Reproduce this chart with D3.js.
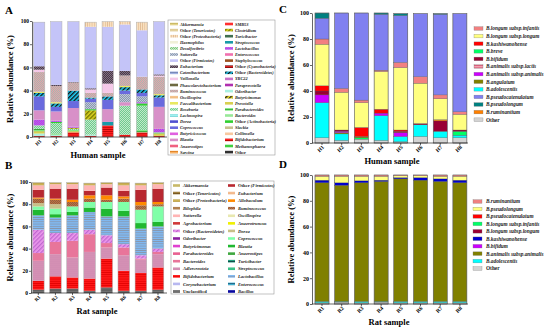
<!DOCTYPE html>
<html>
<head>
<meta charset="utf-8">
<script src="https://cdn.jsdelivr.net/npm/d3@7"></script>
<style>
  body { margin: 0; background: #fff; }
  svg { display: block; font-family: "Liberation Serif", "Times New Roman", serif; }
</style>
</head>
<body>
<script>
// ---- data ----
const humanSamples = ["H1", "H2", "H3", "H4", "H5", "H6", "H7", "H8"];
const ratSamples = ["R1", "R2", "R3", "R4", "R5", "R6", "R7", "R8"];
const yTicks = [0, 20, 40, 60, 80, 100];

// A: genus level, human (stack order bottom -> top, one row per key, columns H1..H8)
const keysA = ["Bifidobacterium", "Odoribacter", "Prevotella", "Parabacteroides", "Roseburia",
  "Streptococcus", "Clostridium", "Other (Actinobacteria)", "Lactobacillus", "Blautia", "Sutterella",
  "Coprococcus", "Other (Bacteroidetes)", "Faecalibacterium", "Ruminococcus", "Veillonella",
  "Eubacterium", "Other (Firmicutes)", "Other (Proteobacteria)"];
const abundA = [
  [1, 1, 4, 1, 10, 2, 4, 1],
  [2, 1, 0, 1, 0, 0, 0, 0],
  [2, 0, 1, 0, 0, 0, 0, 2],
  [2, 1, 1, 0, 0, 0, 2, 1],
  [3, 9, 1, 13, 0, 25, 21, 0],
  [0, 0, 0, 0, 3, 0, 0, 0],
  [0, 0, 1, 8, 0, 0, 0, 0],
  [0, 1, 0, 1, 0, 0, 2, 0],
  [5, 1, 1, 0, 0, 0, 1, 3],
  [8, 8, 16, 0, 11, 3, 0, 19],
  [0, 0, 0, 6, 0, 7, 5, 0],
  [12, 4, 6, 3, 8, 3, 3, 8],
  [3, 3, 9, 1, 3, 3, 3, 2],
  [1, 1, 0, 0, 0, 1, 0, 1],
  [17, 14, 7, 4, 3, 9, 11, 15],
  [2, 0, 0, 3, 8, 0, 0, 1],
  [3, 1, 0.5, 1, 11, 4, 0, 1],
  [38, 54.5, 52, 53, 38, 40, 40, 45.5],
  [0, 0, 0, 4, 4.5, 2.5, 7, 0]
];
const legendA = ["Akkermansia", "Other (Tenericutes)", "Other (Proteobacteria)", "Haemophilus",
  "Desulfovibrio", "Sutterella", "Other (Firmicutes)", "Eubacterium", "Catenibacterium", "Veillonella",
  "Phascolarctobacterium", "Ruminococcus", "Oscillospira", "Faecalibacterium", "Roseburia",
  "Lachnospira", "Dorea", "Coprococcus", "Butyricicoccus", "Blautia", "Anaerostipes", "Sarcina",
  "SMB53", "Clostridium", "Turicibacter", "Streptococcus", "Lactobacillus", "Enterococcus",
  "Staphylococcus", "Other (Cyanobacteria)", "Other (Bacteroidetes)", "YRC22", "Paraprevotella",
  "Odoribacter", "Butyricimonas", "Prevotella", "Parabacteroides", "Bacteroides",
  "Other (Actinobacteria)", "Slackia", "Collinsella", "Bifidobacterium", "Methanosphaera", "Other"];

// B: genus level, rat
const keysB = ["Unclassified", "Bifidobacterium", "Adlercreutzia", "Bacteroides", "Other (Bacteroidetes)",
  "Lactobacillus", "Blautia", "Coprococcus", "Dorea", "Ruminococcus", "Allobaculum",
  "Other (Firmicutes)", "Sutterella", "Other (Proteobacteria)"];
const abundB = [
  [3, 4, 4, 2, 5, 2, 2, 3],
  [8, 11, 10, 11, 26, 18, 16, 20],
  [18, 20, 18, 24, 10, 14, 12, 12],
  [7, 11, 15, 16, 4, 7, 1, 2],
  [21, 8, 7, 4, 7, 3, 3, 3],
  [13, 14, 16, 16, 17, 25, 24, 20],
  [5, 3, 3, 4, 7, 5, 5, 4],
  [3, 5, 5, 5, 6, 8, 12, 14],
  [3, 4, 0, 0, 0, 0, 0, 0],
  [4, 4, 4, 3, 2, 3, 4, 2],
  [1, 1, 2, 3, 4, 2, 3, 2],
  [7, 9, 10, 4, 7, 5, 11, 12],
  [4, 4, 4, 5, 3, 5, 4, 4],
  [2.5, 1.5, 1.5, 2, 1.5, 2.5, 2, 1.5]
];
const legendB = ["Akkermansia", "Other (Tenericutes)", "Other (Proteobacteria)", "Bilophila", "Sutterella",
  "Agrobacterium", "Other (Bacteroidetes)", "Odoribacter", "Butyricimonas", "Parabacteroides",
  "Bacteroides", "Adlercreutzia", "Bifidobacterium", "Corynebacterium", "Unclassified",
  "Other (Firmicutes)", "Eubacterium", "Allobaculum", "Ruminococcus", "Oscillospira", "Anaerotruncus",
  "Dorea", "Coprococcus", "Blautia", "Anaerostipes", "Turicibacter", "Streptococcus", "Lactobacillus",
  "Enterococcus", "Bacillus"];

// C: Bifidobacterium species, human
const keysC = ["Other", "B.adolescentis", "B.breve", "B.angulatum", "B.animalis subsp.animalis",
  "B.bifidum", "B.kashiwanohense", "B.ruminantium", "B.longum subsp.longum",
  "B.longum subsp.infantis", "B.pseudocatenulatum", "B.pseudolongum"];
const abundC = [
  [4, 2, 3, 2, 1, 5, 4, 4],
  [27, 5, 0, 19, 4, 9, 5, 2],
  [0, 0, 1, 0, 0, 0, 0, 3],
  [0, 1, 1, 0, 0, 0, 0, 0],
  [6, 1, 0, 2, 3, 0, 0, 0],
  [3, 1, 0, 0, 1, 1, 8, 1],
  [4, 0, 7, 3, 1, 0, 0, 0],
  [0, 0, 0, 0, 0, 0, 1, 0],
  [32, 29, 19, 29, 48, 31, 16, 12],
  [4, 3, 2, 1, 4, 5, 3, 2],
  [16, 58, 67, 43, 36, 48.5, 62, 75.5],
  [4, 0, 0, 1, 1.5, 0, 0.5, 0]
];
const legendC = ["B.longum subsp.infantis", "B.longum subsp.longum", "B.kashiwanohense", "B.breve",
  "B.bifidum", "B.animalis subsp.lactis", "B.animalis subsp.animalis", "B.angulatum", "B.adolescentis",
  "B.pseudocatenulatum", "B.pseudolongum", "B.ruminantium", "Other"];

// D: Bifidobacterium species, rat
const keysD = ["Other", "B.adolescentis", "B.animalis subsp.animalis", "B.kashiwanohense",
  "B.pseudolongum", "B.ruminantium"];
const abundD = [
  [1, 1.5, 1, 1.5, 1, 1, 1, 1],
  [1, 0.5, 1, 0.5, 1, 1, 1, 1],
  [92, 90, 92, 93, 95, 94, 93, 92],
  [2, 2, 1.5, 1, 1, 2, 2, 2],
  [3, 5, 3.5, 3, 1.5, 1.5, 2, 3],
  [1, 1, 1, 1, 0.5, 0.5, 1, 1]
];
const legendD = ["B.ruminantium", "B.pseudolongum", "B.pseudocatenulatum", "B.longum subsp.infantis",
  "B.longum subsp.longum", "B.kashiwanohense", "B.bifidum", "B.animalis subsp.animalis",
  "B.adolescentis", "Other"];

// ---- styles (fill or [pattern, colour, second colour]) ----
const styleA = {
  "Akkermansia": ["hline", "#e8d890", "#b0a040"],
  "Other (Tenericutes)": ["dots", "#f0e0b0", "#a08040"],
  "Other (Proteobacteria)": ["vline", "#f8e0c0", "#e0b890"],
  "Haemophilus": "#f0f0d8",
  "Desulfovibrio": ["checker", "#c0f0c0", "#80c080"],
  "Sutterella": ["checker", "#8898b0", "#c0c8d8"],
  "Other (Firmicutes)": "#c4c4f8",
  "Eubacterium": ["checker", "#4a3848", "#807080"],
  "Catenibacterium": ["hline", "#a0b0e0", "#6070a0"],
  "Veillonella": "#f4c8e8",
  "Phascolarctobacterium": "#6e6a40",
  "Ruminococcus": ["checker", "#e8a0a8", "#a8b8b0"],
  "Oscillospira": ["dots", "#f8d0a0", "#e08020"],
  "Faecalibacterium": "#e8e860",
  "Roseburia": ["checker", "#70c890", "#c0ecc8"],
  "Lachnospira": ["hline", "#a0f0f0", "#40c0c0"],
  "Dorea": "#5050d0",
  "Coprococcus": "#6a6ade",
  "Butyricicoccus": "#e060e0",
  "Blautia": "#d890c8",
  "Anaerostipes": "#f06080",
  "Sarcina": ["hline", "#f8b060", "#e08020"],
  "SMB53": "#ff3030",
  "Clostridium": ["diag", "#d8d020", "#707000"],
  "Turicibacter": "#407050",
  "Streptococcus": "#189aa8",
  "Lactobacillus": ["checker", "#e020e0", "#9080f0"],
  "Enterococcus": "#f070b0",
  "Staphylococcus": "#9a5020",
  "Other (Cyanobacteria)": ["hline", "#e02020", "#400000"],
  "Other (Bacteroidetes)": ["diag", "#20c8f0", "#101010"],
  "YRC22": "#c870c8",
  "Paraprevotella": "#b030b0",
  "Odoribacter": "#a8f0e0",
  "Butyricimonas": ["diag", "#e8d820", "#202020"],
  "Prevotella": "#d8d050",
  "Parabacteroides": ["hline", "#80e880", "#30a030"],
  "Bacteroides": "#98e898",
  "Other (Actinobacteria)": "#30d030",
  "Slackia": "#c8c090",
  "Collinsella": "#f8c8a0",
  "Bifidobacterium": ["hline", "#ff2020", "#b00000"],
  "Methanosphaera": "#40d040",
  "Other": "#303030"
};
const styleB = {
  "Akkermansia": "#c8b868",
  "Other (Tenericutes)": ["hline", "#a08040", "#604010"],
  "Other (Proteobacteria)": ["dots", "#f0d060", "#101010"],
  "Bilophila": "#b08050",
  "Sutterella": "#ffb4b4",
  "Agrobacterium": "#d03838",
  "Other (Bacteroidetes)": ["diag", "#ec98ec", "#c068d0"],
  "Odoribacter": "#8a1fa0",
  "Butyricimonas": "#e040d0",
  "Parabacteroides": "#e86090",
  "Bacteroides": "#e8759a",
  "Adlercreutzia": ["dots", "#d894b8", "#c07aa0"],
  "Bifidobacterium": ["hline", "#ff1818", "#e00000"],
  "Corynebacterium": "#b8b8f0",
  "Unclassified": ["hline", "#707070", "#404040"],
  "Other (Firmicutes)": "#b82830",
  "Eubacterium": ["dots", "#f8c8a0", "#e08040"],
  "Allobaculum": "#ff8a00",
  "Ruminococcus": ["checker", "#c07040", "#906040"],
  "Oscillospira": "#e8e8b0",
  "Anaerotruncus": "#f0f000",
  "Dorea": "#c8c088",
  "Coprococcus": "#80ffa8",
  "Blautia": "#20b830",
  "Anaerostipes": "#40a840",
  "Turicibacter": ["hline", "#20a080", "#104040"],
  "Streptococcus": ["dots", "#40d090", "#208060"],
  "Lactobacillus": ["hline", "#80b8f0", "#8890a0"],
  "Enterococcus": ["hline", "#40b0d0", "#206080"],
  "Bacillus": "#0808a0"
};
const styleC = {
  "B.longum subsp.infantis": "#f28080", "B.longum subsp.longum": "#ffff80",
  "B.kashiwanohense": "#ff0000", "B.breve": "#00ff66", "B.bifidum": "#990033",
  "B.animalis subsp.lactis": ["hline", "#f4a0b0", "#d05070"], "B.animalis subsp.animalis": "#cc00ff",
  "B.angulatum": "#808000", "B.adolescentis": "#00ffff", "B.pseudocatenulatum": "#8080f0",
  "B.pseudolongum": "#008080", "B.ruminantium": "#ff8000", "Other": "#d3d3d3"
};
const styleD = {
  "B.ruminantium": "#f08080", "B.pseudolongum": "#ffff80", "B.pseudocatenulatum": "#ff0000",
  "B.longum subsp.infantis": "#00ff66", "B.longum subsp.longum": "#990033",
  "B.kashiwanohense": "#0000cc", "B.bifidum": "#cc00ff", "B.animalis subsp.animalis": "#808000",
  "B.adolescentis": "#00ffff", "Other": "#d3d3d3"
};

// ---- drawing ----
const svg = d3.select("body").append("svg")
  .attr("width", 550).attr("height", 330).attr("viewBox", [0, 0, 550, 330]);
const defs = svg.append("defs");
const patCache = new Map();

function paint(s) {
  if (typeof s === "string") return s;
  const key = s.join("|");
  if (patCache.has(key)) return patCache.get(key);
  const [type, c, alt] = s;
  const id = "pat" + patCache.size;
  const p = defs.append("pattern").attr("id", id).attr("patternUnits", "userSpaceOnUse");
  if (type === "hline") {
    p.attr("width", 3).attr("height", 2.2);
    p.append("rect").attr("width", 3).attr("height", 2.2).attr("fill", c);
    p.append("rect").attr("y", 1.5).attr("width", 3).attr("height", 0.7).attr("fill", alt);
  } else if (type === "vline") {
    p.attr("width", 2.2).attr("height", 3);
    p.append("rect").attr("width", 2.2).attr("height", 3).attr("fill", c);
    p.append("rect").attr("x", 1.5).attr("width", 0.7).attr("height", 3).attr("fill", alt);
  } else if (type === "checker") {
    p.attr("width", 2).attr("height", 2);
    p.append("rect").attr("width", 2).attr("height", 2).attr("fill", c);
    p.append("rect").attr("width", 1).attr("height", 1).attr("fill", alt);
    p.append("rect").attr("x", 1).attr("y", 1).attr("width", 1).attr("height", 1).attr("fill", alt);
  } else if (type === "diag") {
    p.attr("width", 3).attr("height", 3).attr("patternTransform", "rotate(45)");
    p.append("rect").attr("width", 3).attr("height", 3).attr("fill", c);
    p.append("rect").attr("width", 1.3).attr("height", 3).attr("fill", alt);
  } else {
    p.attr("width", 2).attr("height", 2);
    p.append("rect").attr("width", 2).attr("height", 2).attr("fill", c);
    p.append("circle").attr("cx", 1).attr("cy", 1).attr("r", 0.5).attr("fill", alt);
  }
  const url = `url(#${id})`;
  patCache.set(key, url);
  return url;
}

// taxon label: genus italic, "Other"/"Unclassified" upright
function label(sel, name) {
  const m = name.match(/^Other \((.*)\)$/);
  if (m) {
    sel.append("tspan").text("Other ");
    sel.append("tspan").attr("font-style", "italic").text(`(${m[1]})`);
  } else if (name === "Other" || name === "Unclassified") {
    sel.text(name);
  } else {
    sel.attr("font-style", "italic").text(name);
  }
}

function panel(cfg) {
  const g = svg.append("g");
  const x = d3.scaleBand().domain(cfg.samples).range(cfg.xr).paddingInner(cfg.pad).paddingOuter(0);
  const y = d3.scaleLinear().domain([0, 100]).range(cfg.yr);

  const table = cfg.samples.map((s, i) => {
    const o = { sample: s };
    cfg.keys.forEach((k, j) => { o[k] = cfg.rows[j][i]; });
    return o;
  });
  const series = d3.stack().keys(cfg.keys)(table);

  g.append("g").selectAll("g").data(series).join("g")
    .attr("fill", d => paint(cfg.styles[d.key]))
    .selectAll("rect").data(d => d).join("rect")
    .attr("x", d => x(d.data.sample))
    .attr("width", x.bandwidth())
    .attr("y", d => y(d[1]))
    .attr("height", d => y(d[0]) - y(d[1]))
    .attr("stroke", cfg.segStroke)
    .attr("stroke-width", 0.3);

  // bar outlines
  g.append("g").selectAll("rect").data(table).join("rect")
    .attr("x", d => x(d.sample))
    .attr("width", x.bandwidth())
    .attr("y", d => y(d3.sum(cfg.keys, k => d[k])))
    .attr("height", d => y(0) - y(d3.sum(cfg.keys, k => d[k])))
    .attr("fill", "none")
    .attr("stroke", cfg.outline)
    .attr("stroke-width", 0.5);

  // y axis
  const ya = g.append("g")
    .attr("transform", `translate(${cfg.ax[0]},0)`)
    .call(d3.axisLeft(y).tickValues(yTicks).tickSize(2).tickSizeOuter(0).tickPadding(1));
  ya.attr("font-family", null).attr("font-size", cfg.tickFont).attr("font-weight", "bold");
  ya.selectAll("path, line").attr("stroke-width", 0.6);

  // x axis
  const xa = g.append("g")
    .attr("transform", `translate(0,${y(0)})`)
    .call(d3.axisBottom(x).tickSize(2).tickSizeOuter(0));
  xa.select(".domain").remove();
  xa.append("line").attr("x1", cfg.ax[0]).attr("x2", cfg.ax[1])
    .attr("stroke", "currentColor").attr("stroke-width", 0.6);
  xa.attr("font-family", null).attr("font-size", cfg.tickFont - 0.5).attr("font-weight", "bold");
  xa.selectAll("line").attr("stroke-width", 0.6);
  xa.selectAll(".tick text")
    .attr("x", 0).attr("y", 0).attr("dy", 0)
    .attr("text-anchor", "end")
    .attr("transform", "translate(2.5,4.5) rotate(-45)");

  // titles
  g.append("text")
    .attr("transform", `translate(${cfg.yTitleX},${(cfg.yr[0] + cfg.yr[1]) / 2}) rotate(-90)`)
    .attr("text-anchor", "middle").attr("font-weight", "bold").attr("font-size", 8.5)
    .text("Relative abundance (%)");
  g.append("text")
    .attr("x", cfg.xTitle[0]).attr("y", cfg.xTitle[1])
    .attr("text-anchor", "middle").attr("font-weight", "bold").attr("font-size", 8.5)
    .text(cfg.xLabel);
  g.append("text")
    .attr("x", cfg.letter[0]).attr("y", cfg.letter[1])
    .attr("font-weight", "bold").attr("font-size", 11)
    .text(cfg.name);

  // legend
  const lg = g.append("g");
  if (cfg.box) {
    lg.append("rect").attr("x", cfg.box[0]).attr("y", cfg.box[1])
      .attr("width", cfg.box[2]).attr("height", cfg.box[3])
      .attr("fill", "#fff").attr("stroke", "#999").attr("stroke-width", 0.6);
  }
  const L = cfg.legend;
  const perCol = Math.ceil(L.names.length / L.cols.length);
  L.names.forEach((name, i) => {
    const col = Math.floor(i / perCol);
    const row = i % perCol;
    const cy = L.y0 + row * L.step;
    const sx = L.cols[col];
    lg.append("rect")
      .attr("x", sx).attr("y", cy - L.sh / 2)
      .attr("width", L.sw).attr("height", L.sh)
      .attr("fill", paint(cfg.styles[name]))
      .attr("stroke", L.sstroke).attr("stroke-width", 0.3);
    const t = lg.append("text")
      .attr("x", sx + L.sw + L.gap).attr("y", cy)
      .attr("dy", "0.35em")
      .attr("font-size", L.font).attr("font-weight", "bold").attr("fill", "#222");
    label(t, name);
  });
}

panel({
  name: "A", letter: [5, 14], samples: humanSamples, keys: keysA, rows: abundA, styles: styleA,
  xr: [33.5, 164.8], pad: 0.34, yr: [137, 21], ax: [32, 167], tickFont: 5.5,
  segStroke: "none", outline: "#b0b0b0",
  yTitleX: 13, xTitle: [98, 158], xLabel: "Human sample",
  box: [168, 20, 107, 135],
  legend: { names: legendA, cols: [170, 225], y0: 24, step: 6.1, sw: 8, sh: 2.6, gap: 2, font: 4.3, sstroke: "none" }
});

panel({
  name: "B", letter: [5, 169], samples: ratSamples, keys: keysB, rows: abundB, styles: styleB,
  xr: [32.5, 163.8], pad: 0.32, yr: [293, 182], ax: [31, 167], tickFont: 5.5,
  segStroke: "none", outline: "#b0b0b0",
  yTitleX: 13, xTitle: [97, 314], xLabel: "Rat sample",
  box: [171, 181, 103, 113],
  legend: { names: legendB, cols: [173, 228], y0: 185.5, step: 7.57, sw: 7, sh: 2.6, gap: 3, font: 4.6, sstroke: "none" }
});

panel({
  name: "C", letter: [279, 13], samples: humanSamples, keys: keysC, rows: abundC, styles: styleC,
  xr: [315, 466.9], pad: 0.29, yr: [143, 13], ax: [312, 468], tickFont: 6,
  segStroke: "#555", outline: "#666",
  yTitleX: 294, xTitle: [392, 164], xLabel: "Human sample",
  legend: { names: legendC, cols: [474], y0: 28.5, step: 7.6, sw: 9, sh: 3.6, gap: 3, font: 5.3, sstroke: "#777" }
});

panel({
  name: "D", letter: [279, 168], samples: ratSamples, keys: keysD, rows: abundD, styles: styleD,
  xr: [315, 466.9], pad: 0.29, yr: [304, 175], ax: [312, 468], tickFont: 6,
  segStroke: "#555", outline: "#666",
  yTitleX: 294, xTitle: [389, 325], xLabel: "Rat sample",
  legend: { names: legendD, cols: [473], y0: 201.5, step: 7.45, sw: 9, sh: 3.6, gap: 4, font: 5.3, sstroke: "#777" }
});
</script>
</body>
</html>
